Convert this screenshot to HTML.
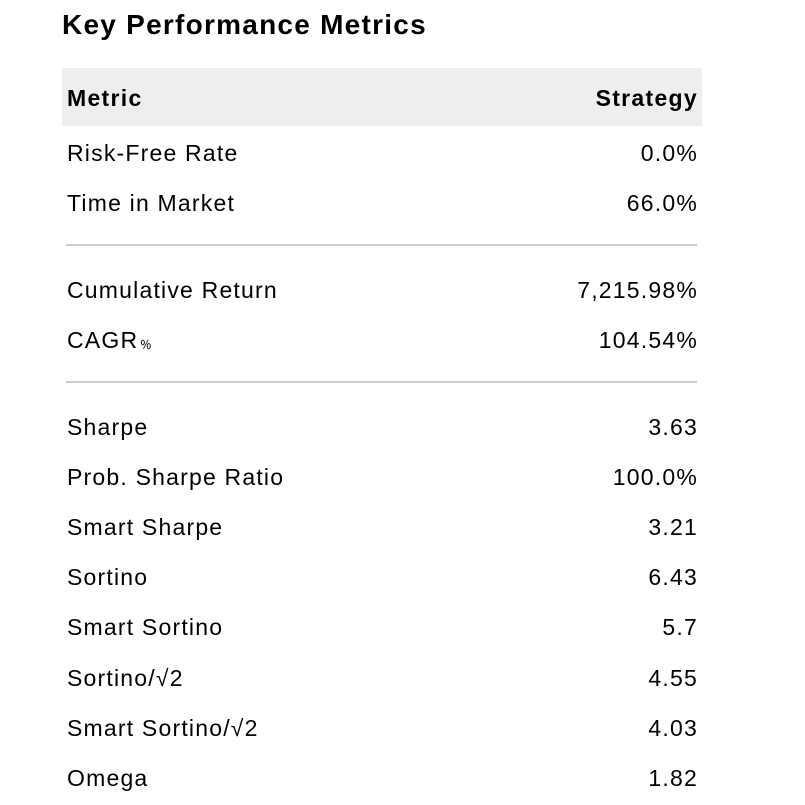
<!DOCTYPE html>
<html><head><meta charset="utf-8"><style>
body{margin:0;width:805px;height:805px;background:#fff;font-family:"Liberation Sans",Arial,sans-serif;color:#000;position:relative;overflow:hidden}
.t{position:absolute;left:62px;top:9px;font-size:28px;font-weight:bold;letter-spacing:1.25px}
.hd{position:absolute;left:62px;top:68px;width:640px;height:58px;background:#eeeeee}
.r{position:absolute;left:67px;width:630px;font-size:23px;line-height:26px;letter-spacing:1.2px}
.r span{position:absolute;right:-1px;top:0}
.b{font-weight:bold;letter-spacing:1.3px}
.ln{position:absolute;left:66px;width:631px;height:0;border-top:2px solid #ccc}
</style></head><body>
<div class="t">Key Performance Metrics</div>
<div class="hd"></div>
<div class="r b" style="top:85px">Metric<span>Strategy</span></div>
<div class="r" style="top:140px">Risk-Free Rate<span>0.0%</span></div>
<div class="r" style="top:190px">Time in Market<span>66.0%</span></div>
<div class="ln" style="top:244px"></div>
<div class="r" style="top:277px">Cumulative Return<span>7,215.98%</span></div>
<div class="r" style="top:327px">CAGR<small style="font-size:15px">﹪</small><span>104.54%</span></div>
<div class="ln" style="top:381px"></div>
<div class="r" style="top:414px">Sharpe<span>3.63</span></div>
<div class="r" style="top:464px">Prob. Sharpe Ratio<span>100.0%</span></div>
<div class="r" style="top:514px">Smart Sharpe<span>3.21</span></div>
<div class="r" style="top:564px">Sortino<span>6.43</span></div>
<div class="r" style="top:614px">Smart Sortino<span>5.7</span></div>
<div class="r" style="top:665px">Sortino/√2<span>4.55</span></div>
<div class="r" style="top:715px">Smart Sortino/√2<span>4.03</span></div>
<div class="r" style="top:765px">Omega<span>1.82</span></div>
</body></html>
